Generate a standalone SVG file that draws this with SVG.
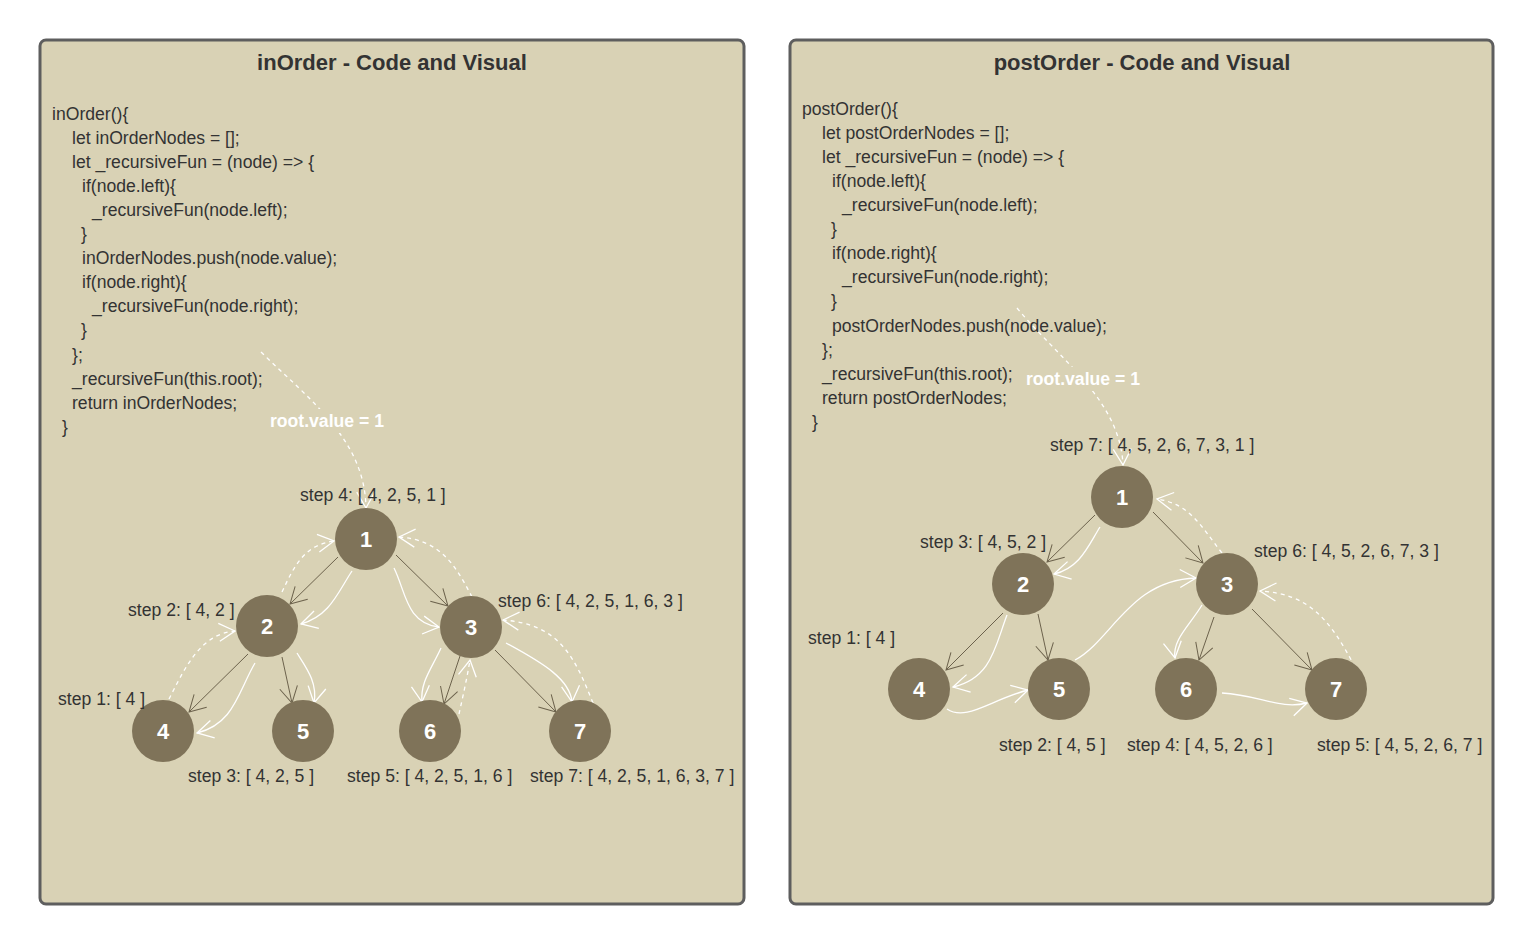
<svg xmlns="http://www.w3.org/2000/svg" width="1537" height="944" viewBox="0 0 1537 944">
<style>
.panel{fill:#d9d2b5;stroke:#5e5e5e;stroke-width:3}
.title{font:bold 22px "Liberation Sans",Arial,sans-serif;fill:#333;text-anchor:middle}
.code{font:17.6px "Liberation Sans",Arial,sans-serif;fill:#333}
.lbl{font:17.6px "Liberation Sans",Arial,sans-serif;fill:#333}
.root{font:bold 17.6px "Liberation Sans",Arial,sans-serif;fill:#fff}
.node circle{fill:#7f7359}
.node text{font:bold 22px "Liberation Sans",Arial,sans-serif;fill:#fff;text-anchor:middle}
.edge{fill:none;stroke:#6c624c;stroke-width:1;marker-end:url(#ad)}
.walk{fill:none;stroke:#fff;stroke-width:1.3;marker-end:url(#aw)}
.back{fill:none;stroke:#fff;stroke-width:1.3;stroke-dasharray:4 4;marker-end:url(#aw)}
</style>
<defs>
<marker id="ad" markerUnits="userSpaceOnUse" markerWidth="40" markerHeight="40" refX="0" refY="0" viewBox="-20 -20 40 40" orient="auto" overflow="visible">
<path d="M-16,-9 L0,0 L-16,9" fill="none" stroke="#6c624c" stroke-width="1"/>
</marker>
<marker id="aw" markerUnits="userSpaceOnUse" markerWidth="40" markerHeight="40" refX="0" refY="0" viewBox="-20 -20 40 40" orient="auto" overflow="visible">
<path d="M-16,-9 L0,0 L-16,9" fill="none" stroke="#fff" stroke-width="1.3"/>
</marker>
</defs>
<rect width="1537" height="944" fill="#fff"/>

<g id="panel-inorder">
<rect class="panel" x="40" y="40" width="704" height="864" rx="6"/>
<text class="title" x="392" y="70">inOrder - Code and Visual</text>
<g class="code">
<text x="52" y="120">inOrder(){</text>
<text x="72" y="144">let inOrderNodes = [];</text>
<text x="72" y="168">let _recursiveFun = (node) =&gt; {</text>
<text x="82" y="192">if(node.left){</text>
<text x="92" y="216">_recursiveFun(node.left);</text>
<text x="81" y="240">}</text>
<text x="82" y="264">inOrderNodes.push(node.value);</text>
<text x="82" y="288">if(node.right){</text>
<text x="92" y="312">_recursiveFun(node.right);</text>
<text x="81" y="336">}</text>
<text x="72" y="361">};</text>
<text x="72" y="385">_recursiveFun(this.root);</text>
<text x="72" y="409">return inOrderNodes;</text>
<text x="62" y="433">}</text>
</g>
</g>

<g id="panel-postorder">
<rect class="panel" x="790" y="40" width="703" height="864" rx="6"/>
<text class="title" x="1142" y="70">postOrder - Code and Visual</text>
<g class="code">
<text x="802" y="115">postOrder(){</text>
<text x="822" y="139">let postOrderNodes = [];</text>
<text x="822" y="163">let _recursiveFun = (node) =&gt; {</text>
<text x="832" y="187">if(node.left){</text>
<text x="842" y="211">_recursiveFun(node.left);</text>
<text x="831" y="235">}</text>
<text x="832" y="259">if(node.right){</text>
<text x="842" y="283">_recursiveFun(node.right);</text>
<text x="831" y="307">}</text>
<text x="832" y="332">postOrderNodes.push(node.value);</text>
<text x="822" y="356">};</text>
<text x="822" y="380">_recursiveFun(this.root);</text>
<text x="822" y="404">return postOrderNodes;</text>
<text x="812" y="428">}</text>
</g>
</g>

<g id="connectors">
<!-- inOrder tree edges -->
<path class="edge" d="M338,557 L290,604"/>
<path class="edge" d="M396,555 L448,606"/>
<path class="edge" d="M248,654 L189,712"/>
<path class="edge" d="M282,657 L292,703"/>
<path class="edge" d="M460,656 L444,704"/>
<path class="edge" d="M495,650 L556,712"/>
<!-- inOrder walk -->
<path class="walk" d="M352,571 C338,592 330,616 301,624"/>
<path class="walk" d="M255,663 C238,692 234,724 197,733"/>
<path class="walk" d="M297,653 C305,666 318,682 314,703"/>
<path class="walk" d="M394,568 C406,592 406,623 439,627"/>
<path class="walk" d="M441,648 C432,668 420,682 422,702"/>
<path class="walk" d="M506,643 C545,664 570,680 572,702"/>
<!-- inOrder returns -->
<path class="back" d="M169,699 C185,668 200,634 235,631"/>
<path class="back" d="M282,592 C295,564 305,545 334,541"/>
<path class="back" d="M459,714 C463,696 467,678 470,660"/>
<path class="back" d="M593,703 C575,658 560,624 503,620"/>
<path class="back" d="M472,597 C455,564 440,540 399,537"/>
<path class="back" d="M261,352 C310,400 365,440 366,508"/>
<!-- postOrder tree edges -->
<path class="edge" d="M1095,515 L1047,562"/>
<path class="edge" d="M1153,512 L1203,563"/>
<path class="edge" d="M1003,613 L946,670"/>
<path class="edge" d="M1038,614 L1048,660"/>
<path class="edge" d="M1214,617 L1199,660"/>
<path class="edge" d="M1252,609 L1312,670"/>
<!-- postOrder walk -->
<path class="walk" d="M1100,527 C1088,546 1080,568 1054,574"/>
<path class="walk" d="M1007,615 C995,646 992,678 953,687"/>
<path class="walk" d="M947,709 C966,722 990,700 1028,690"/>
<path class="walk" d="M1075,660 C1112,640 1130,580 1196,578"/>
<path class="walk" d="M1202,605 C1190,625 1172,640 1175,658"/>
<path class="walk" d="M1222,693 C1260,695 1280,710 1307,703"/>
<!-- postOrder returns -->
<path class="back" d="M1355,667 C1330,620 1310,594 1260,591"/>
<path class="back" d="M1222,553 C1200,525 1190,504 1157,499"/>
<path class="back" d="M1017,308 C1060,360 1120,400 1123,465"/>
</g>

<g id="root-labels">
<rect x="268" y="409" width="120" height="24" fill="#d9d2b5"/>
<text class="root" x="270" y="427">root.value = 1</text>
<rect x="1024" y="367" width="120" height="24" fill="#d9d2b5"/>
<text class="root" x="1026" y="385">root.value = 1</text>
</g>

<g id="in-node-1" class="node"><circle cx="366" cy="539" r="31"/><text x="366" y="547">1</text></g>
<g id="in-node-2" class="node"><circle cx="267" cy="626" r="31"/><text x="267" y="634">2</text></g>
<g id="in-node-3" class="node"><circle cx="471" cy="627" r="31"/><text x="471" y="635">3</text></g>
<g id="in-node-4" class="node"><circle cx="163" cy="731" r="31"/><text x="163" y="739">4</text></g>
<g id="in-node-5" class="node"><circle cx="303" cy="731" r="31"/><text x="303" y="739">5</text></g>
<g id="in-node-6" class="node"><circle cx="430" cy="731" r="31"/><text x="430" y="739">6</text></g>
<g id="in-node-7" class="node"><circle cx="580" cy="731" r="31"/><text x="580" y="739">7</text></g>

<g id="post-node-1" class="node"><circle cx="1122" cy="497" r="31"/><text x="1122" y="505">1</text></g>
<g id="post-node-2" class="node"><circle cx="1023" cy="584" r="31"/><text x="1023" y="592">2</text></g>
<g id="post-node-3" class="node"><circle cx="1227" cy="584" r="31"/><text x="1227" y="592">3</text></g>
<g id="post-node-4" class="node"><circle cx="919" cy="689" r="31"/><text x="919" y="697">4</text></g>
<g id="post-node-5" class="node"><circle cx="1059" cy="689" r="31"/><text x="1059" y="697">5</text></g>
<g id="post-node-6" class="node"><circle cx="1186" cy="689" r="31"/><text x="1186" y="697">6</text></g>
<g id="post-node-7" class="node"><circle cx="1336" cy="689" r="31"/><text x="1336" y="697">7</text></g>

<g id="step-labels" class="lbl">
<text x="300" y="501">step 4: [ 4, 2, 5, 1 ]</text>
<text x="128" y="616">step 2: [ 4, 2 ]</text>
<text x="498" y="607">step 6: [ 4, 2, 5, 1, 6, 3 ]</text>
<text x="58" y="705">step 1: [ 4 ]</text>
<text x="188" y="782">step 3: [ 4, 2, 5 ]</text>
<text x="347" y="782">step 5: [ 4, 2, 5, 1, 6 ]</text>
<text x="530" y="782">step 7: [ 4, 2, 5, 1, 6, 3, 7 ]</text>
<text x="1050" y="451">step 7: [ 4, 5, 2, 6, 7, 3, 1 ]</text>
<text x="920" y="548">step 3: [ 4, 5, 2 ]</text>
<text x="1254" y="557">step 6: [ 4, 5, 2, 6, 7, 3 ]</text>
<text x="808" y="644">step 1: [ 4 ]</text>
<text x="999" y="751">step 2: [ 4, 5 ]</text>
<text x="1127" y="751">step 4: [ 4, 5, 2, 6 ]</text>
<text x="1317" y="751">step 5: [ 4, 5, 2, 6, 7 ]</text>
</g>
</svg>
